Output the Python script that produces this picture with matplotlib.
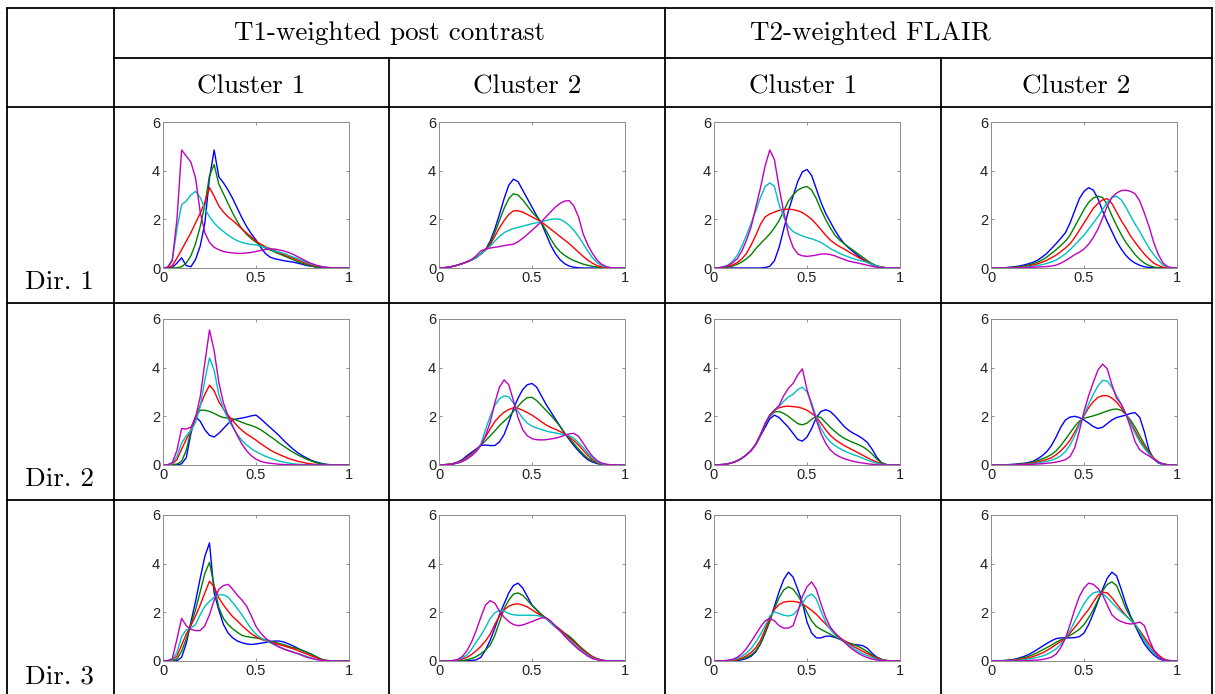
import numpy as np
import matplotlib
matplotlib.use("Agg")
import matplotlib.pyplot as plt

plt.rcParams["font.family"] = ["Liberation Sans", "DejaVu Sans"]

# ── Data: density curves, x = 0, 0.025, ..., 1 ──
x_grid = np.linspace(0, 1, 41)

# Dir. 1 / T1 Cluster 1
d1_t1c1_b = [0, 0, 0.02, 0.2, 0.42, 0.1, 0.05, 0.35, 0.9, 1.85,
             3.7, 4.85, 3.75, 3.5, 3.2, 2.85, 2.45, 2.05, 1.7, 1.4,
             1.15, 0.85, 0.6, 0.45, 0.38, 0.34, 0.3, 0.27, 0.24, 0.2,
             0.15, 0.1, 0.07, 0.04, 0.02, 0.01, 0, 0, 0, 0, 0]
d1_t1c1_g = [0, 0, 0, 0.01, 0.05, 0.2, 0.5, 1.0, 1.7, 2.6,
             3.8, 4.25, 3.45, 3.05, 2.65, 2.25, 1.9, 1.6, 1.38, 1.2,
             1.06, 0.92, 0.82, 0.74, 0.66, 0.58, 0.5, 0.42, 0.34, 0.26,
             0.19, 0.13, 0.08, 0.04, 0.02, 0.01, 0, 0, 0, 0, 0]
d1_t1c1_r = [0, 0.01, 0.1, 0.4, 0.75, 1.1, 1.45, 1.85, 2.25, 2.7,
             3.3, 2.95, 2.55, 2.3, 2.1, 1.95, 1.78, 1.6, 1.43, 1.27,
             1.1, 0.98, 0.88, 0.8, 0.72, 0.63, 0.55, 0.47, 0.4, 0.32,
             0.25, 0.18, 0.12, 0.08, 0.05, 0.02, 0.01, 0, 0, 0, 0]
d1_t1c1_c = [0, 0.05, 0.35, 1.6, 2.6, 2.75, 3.0, 3.15, 2.9, 2.45,
             2.1, 1.85, 1.65, 1.5, 1.35, 1.22, 1.12, 1.05, 1.0, 0.97,
             0.95, 0.9, 0.85, 0.78, 0.7, 0.65, 0.6, 0.52, 0.45, 0.38,
             0.3, 0.22, 0.15, 0.1, 0.06, 0.03, 0.01, 0, 0, 0, 0]
d1_t1c1_m = [0, 0.02, 0.3, 2.0, 4.85, 4.6, 4.35, 3.7, 2.3, 1.45,
             1.05, 0.85, 0.75, 0.68, 0.64, 0.62, 0.6, 0.6, 0.62, 0.64,
             0.68, 0.72, 0.76, 0.78, 0.78, 0.74, 0.7, 0.64, 0.56, 0.46,
             0.36, 0.26, 0.18, 0.11, 0.06, 0.03, 0.01, 0, 0, 0, 0]

# Dir. 1 / T1 Cluster 2
d1_t1c2_b = [0, 0.01, 0.03, 0.07, 0.12, 0.18, 0.25, 0.33, 0.43, 0.58,
             0.75, 1.1, 1.6, 2.2, 2.85, 3.4, 3.65, 3.55, 3.2, 2.85,
             2.5, 2.15, 1.85, 1.4, 0.95, 0.6, 0.35, 0.18, 0.08, 0.03,
             0.01, 0, 0, 0, 0, 0, 0, 0, 0, 0, 0]
d1_t1c2_g = [0, 0.01, 0.03, 0.07, 0.12, 0.18, 0.25, 0.33, 0.43, 0.58,
             0.75, 1.0, 1.45, 1.95, 2.45, 2.85, 3.05, 3.0, 2.8, 2.55,
             2.3, 2.1, 1.88, 1.55, 1.2, 0.9, 0.68, 0.52, 0.4, 0.3,
             0.23, 0.16, 0.11, 0.07, 0.04, 0.02, 0.01, 0, 0, 0, 0]
d1_t1c2_r = [0, 0.01, 0.03, 0.07, 0.12, 0.18, 0.25, 0.33, 0.43, 0.58,
             0.75, 0.95, 1.3, 1.65, 1.95, 2.2, 2.35, 2.35, 2.3, 2.2,
             2.1, 2.0, 1.9, 1.75, 1.6, 1.45, 1.3, 1.15, 1.0, 0.83,
             0.65, 0.48, 0.32, 0.2, 0.1, 0.04, 0.01, 0, 0, 0, 0]
d1_t1c2_c = [0, 0.01, 0.03, 0.07, 0.12, 0.18, 0.25, 0.33, 0.43, 0.58,
             0.72, 0.9, 1.1, 1.3, 1.45, 1.55, 1.62, 1.67, 1.72, 1.77,
             1.82, 1.86, 1.9, 1.95, 2.0, 2.02, 2.0, 1.9, 1.75, 1.55,
             1.3, 1.0, 0.7, 0.42, 0.22, 0.1, 0.04, 0.01, 0, 0, 0]
d1_t1c2_m = [0, 0.01, 0.03, 0.07, 0.12, 0.18, 0.25, 0.35, 0.5, 0.7,
             0.78, 0.82, 0.85, 0.88, 0.92, 0.95, 0.98, 1.08, 1.22, 1.38,
             1.55, 1.72, 1.9, 2.1, 2.3, 2.5, 2.65, 2.75, 2.77, 2.55,
             2.1, 1.4, 0.95, 0.6, 0.32, 0.15, 0.05, 0.01, 0, 0, 0]

# Dir. 1 / T2 Cluster 1
d1_t2c1_b = [0, 0, 0, 0, 0, 0, 0, 0, 0, 0,
             0, 0.02, 0.07, 0.3, 0.85, 1.6, 2.35, 2.95, 3.55, 3.95,
             4.05, 3.8, 3.25, 2.7, 2.25, 1.9, 1.55, 1.25, 1.0, 0.82,
             0.66, 0.5, 0.36, 0.24, 0.14, 0.07, 0.03, 0.01, 0, 0, 0]
d1_t2c1_g = [0, 0, 0.01, 0.03, 0.08, 0.15, 0.25, 0.38, 0.55, 0.8,
             1.0, 1.2, 1.4, 1.65, 1.95, 2.35, 2.75, 3.0, 3.2, 3.3,
             3.35, 3.2, 2.85, 2.4, 2.0, 1.65, 1.35, 1.15, 1.0, 0.85,
             0.72, 0.58, 0.44, 0.3, 0.18, 0.09, 0.04, 0.01, 0, 0, 0]
d1_t2c1_r = [0, 0.01, 0.03, 0.07, 0.13, 0.22, 0.38, 0.6, 0.95, 1.35,
             1.8, 2.1, 2.22, 2.3, 2.37, 2.4, 2.42, 2.4, 2.35, 2.28,
             2.15, 2.0, 1.8, 1.58, 1.35, 1.15, 1.0, 0.88, 0.78, 0.66,
             0.55, 0.44, 0.34, 0.24, 0.15, 0.08, 0.04, 0.01, 0, 0, 0]
d1_t2c1_c = [0, 0.01, 0.05, 0.12, 0.28, 0.52, 0.9, 1.35, 1.85, 2.35,
             2.9, 3.35, 3.5, 3.35, 2.6, 2.1, 1.7, 1.5, 1.4, 1.32,
             1.25, 1.2, 1.13, 1.05, 0.93, 0.8, 0.7, 0.6, 0.52, 0.45,
             0.38, 0.33, 0.28, 0.22, 0.15, 0.08, 0.03, 0.01, 0, 0, 0]
d1_t2c1_m = [0, 0.01, 0.04, 0.1, 0.22, 0.38, 0.7, 1.15, 1.7, 2.5,
             3.3, 4.2, 4.85, 4.45, 3.3, 2.3, 1.4, 0.85, 0.58, 0.5,
             0.48, 0.5, 0.53, 0.57, 0.58, 0.55, 0.5, 0.42, 0.35, 0.28,
             0.24, 0.2, 0.16, 0.11, 0.07, 0.03, 0.01, 0, 0, 0, 0]

# Dir. 1 / T2 Cluster 2
d1_t2c2_b = [0, 0, 0.01, 0.01, 0.03, 0.05, 0.08, 0.12, 0.17, 0.23,
             0.32, 0.45, 0.6, 0.8, 1.0, 1.22, 1.45, 1.85, 2.35, 2.85,
             3.15, 3.3, 3.2, 2.85, 2.35, 1.9, 1.5, 1.1, 0.78, 0.52,
             0.33, 0.2, 0.11, 0.05, 0.02, 0.01, 0, 0, 0, 0, 0]
d1_t2c2_g = [0, 0, 0, 0.01, 0.02, 0.03, 0.05, 0.08, 0.12, 0.17,
             0.24, 0.33, 0.45, 0.6, 0.75, 0.92, 1.1, 1.35, 1.7, 2.05,
             2.4, 2.7, 2.88, 2.95, 2.9, 2.6, 2.15, 1.75, 1.38, 1.05,
             0.8, 0.55, 0.35, 0.2, 0.1, 0.04, 0.01, 0, 0, 0, 0]
d1_t2c2_r = [0, 0, 0, 0, 0.01, 0.02, 0.03, 0.05, 0.08, 0.12,
             0.17, 0.24, 0.32, 0.42, 0.53, 0.67, 0.82, 1.0, 1.25, 1.55,
             1.85, 2.15, 2.45, 2.65, 2.8, 2.85, 2.65, 2.3, 1.95, 1.65,
             1.32, 1.05, 0.8, 0.57, 0.37, 0.2, 0.1, 0.03, 0.01, 0, 0]
d1_t2c2_c = [0, 0, 0, 0, 0, 0.01, 0.02, 0.03, 0.05, 0.07,
             0.1, 0.14, 0.19, 0.25, 0.33, 0.45, 0.58, 0.75, 0.95, 1.15,
             1.35, 1.6, 1.85, 2.1, 2.4, 2.7, 2.9, 2.95, 2.8, 2.5,
             2.15, 1.8, 1.5, 1.15, 0.82, 0.55, 0.32, 0.12, 0.03, 0.01, 0]
d1_t2c2_m = [0, 0, 0, 0, 0, 0, 0.01, 0.01, 0.02, 0.03,
             0.04, 0.05, 0.06, 0.08, 0.12, 0.2, 0.3, 0.42, 0.55, 0.65,
             0.78, 0.98, 1.25, 1.6, 2.05, 2.55, 2.9, 3.08, 3.18, 3.2,
             3.15, 3.05, 2.75, 2.25, 1.7, 1.05, 0.55, 0.2, 0.05, 0.01, 0]

# Dir. 2 / T1 Cluster 1
d2_t1c1_b = [0, 0, 0, 0.01, 0.05, 0.3, 1.3, 1.98, 1.8, 1.45,
             1.22, 1.15, 1.3, 1.5, 1.7, 1.85, 1.9, 1.93, 1.97, 2.02,
             2.05, 1.9, 1.72, 1.55, 1.38, 1.2, 1.0, 0.82, 0.65, 0.5,
             0.38, 0.28, 0.18, 0.12, 0.07, 0.03, 0.01, 0, 0, 0, 0]
d2_t1c1_g = [0, 0, 0.01, 0.04, 0.15, 0.6, 1.4, 2.0, 2.25, 2.25,
             2.2, 2.12, 2.02, 1.95, 1.93, 1.9, 1.83, 1.75, 1.68, 1.62,
             1.55, 1.45, 1.32, 1.18, 1.05, 0.9, 0.77, 0.64, 0.52, 0.41,
             0.32, 0.23, 0.16, 0.09, 0.05, 0.02, 0.01, 0, 0, 0, 0]
d2_t1c1_r = [0, 0.01, 0.04, 0.22, 0.65, 1.05, 1.45, 1.95, 2.45, 2.9,
             3.28, 3.05, 2.6, 2.3, 2.05, 1.82, 1.6, 1.42, 1.27, 1.15,
             1.02, 0.88, 0.75, 0.62, 0.52, 0.43, 0.35, 0.27, 0.21, 0.15,
             0.11, 0.07, 0.04, 0.02, 0.01, 0, 0, 0, 0, 0, 0]
d2_t1c1_c = [0, 0.01, 0.06, 0.35, 0.9, 1.2, 1.4, 1.75, 2.4, 3.5,
             4.4, 3.9, 2.9, 2.3, 1.9, 1.55, 1.25, 1.0, 0.82, 0.67,
             0.55, 0.45, 0.36, 0.29, 0.22, 0.16, 0.12, 0.08, 0.05, 0.03,
             0.02, 0.01, 0.01, 0, 0, 0, 0, 0, 0, 0, 0]
d2_t1c1_m = [0, 0.01, 0.1, 0.6, 1.5, 1.48, 1.55, 1.95, 2.8, 4.2,
             5.55, 4.7, 3.4, 2.55, 2.0, 1.6, 1.2, 0.85, 0.58, 0.38,
             0.24, 0.15, 0.1, 0.07, 0.05, 0.03, 0.02, 0.01, 0.01, 0,
             0, 0, 0, 0, 0, 0, 0, 0, 0, 0, 0]

# Dir. 2 / T1 Cluster 2
d2_t1c2_b = [0, 0.01, 0.03, 0.06, 0.12, 0.22, 0.38, 0.52, 0.66, 0.8,
             0.82, 0.8, 0.8, 0.95, 1.25, 1.75, 2.3, 2.75, 3.1, 3.3,
             3.35, 3.2, 2.85, 2.5, 2.2, 1.9, 1.6, 1.3, 1.05, 0.8,
             0.58, 0.38, 0.22, 0.12, 0.06, 0.02, 0.01, 0, 0, 0, 0]
d2_t1c2_g = [0, 0.01, 0.02, 0.05, 0.1, 0.18, 0.3, 0.45, 0.6, 0.8,
             1.0, 1.2, 1.4, 1.62, 1.8, 1.98, 2.2, 2.42, 2.62, 2.77,
             2.78, 2.65, 2.45, 2.25, 2.05, 1.83, 1.6, 1.32, 1.1, 0.88,
             0.65, 0.45, 0.28, 0.16, 0.08, 0.03, 0.01, 0, 0, 0, 0]
d2_t1c2_r = [0, 0.01, 0.02, 0.05, 0.1, 0.18, 0.3, 0.45, 0.62, 0.85,
             1.15, 1.48, 1.78, 2.0, 2.17, 2.28, 2.35, 2.33, 2.25, 2.15,
             2.05, 1.92, 1.78, 1.65, 1.55, 1.47, 1.38, 1.28, 1.15, 1.0,
             0.82, 0.6, 0.4, 0.22, 0.11, 0.04, 0.01, 0, 0, 0, 0]
d2_t1c2_c = [0, 0.01, 0.02, 0.04, 0.08, 0.15, 0.26, 0.4, 0.58, 0.85,
             1.45, 2.0, 2.45, 2.72, 2.84, 2.8, 2.55, 2.2, 1.92, 1.72,
             1.6, 1.52, 1.46, 1.4, 1.35, 1.32, 1.28, 1.25, 1.2, 1.1,
             0.92, 0.72, 0.48, 0.28, 0.13, 0.05, 0.02, 0, 0, 0, 0]
d2_t1c2_m = [0, 0.01, 0.02, 0.04, 0.08, 0.14, 0.24, 0.38, 0.55, 0.8,
             1.2, 1.75, 2.55, 3.2, 3.5, 3.3, 2.65, 1.95, 1.45, 1.2,
             1.08, 1.04, 1.03, 1.04, 1.07, 1.1, 1.15, 1.22, 1.28, 1.3,
             1.18, 0.9, 0.6, 0.36, 0.18, 0.08, 0.03, 0.01, 0, 0, 0]

# Dir. 2 / T2 Cluster 1
d2_t2c1_b = [0, 0.01, 0.02, 0.05, 0.1, 0.17, 0.28, 0.42, 0.6, 0.85,
             1.2, 1.55, 1.9, 2.05, 1.95, 1.75, 1.55, 1.3, 1.05, 0.98,
             1.15, 1.5, 1.95, 2.2, 2.27, 2.2, 2.02, 1.8, 1.58, 1.42,
             1.3, 1.2, 1.08, 0.92, 0.65, 0.32, 0.1, 0.02, 0, 0, 0]
d2_t2c1_g = [0, 0.01, 0.02, 0.05, 0.1, 0.17, 0.28, 0.42, 0.6, 0.85,
             1.25, 1.65, 2.0, 2.18, 2.2, 2.12, 2.0, 1.85, 1.7, 1.65,
             1.72, 1.88, 2.0, 1.95, 1.75, 1.55, 1.38, 1.22, 1.1, 1.0,
             0.92, 0.84, 0.75, 0.62, 0.45, 0.25, 0.08, 0.02, 0, 0, 0]
d2_t2c1_r = [0, 0.01, 0.02, 0.05, 0.1, 0.17, 0.28, 0.42, 0.6, 0.85,
             1.25, 1.7, 2.05, 2.25, 2.35, 2.4, 2.42, 2.4, 2.38, 2.33,
             2.25, 2.12, 1.98, 1.72, 1.45, 1.22, 1.05, 0.92, 0.8, 0.7,
             0.6, 0.5, 0.4, 0.3, 0.2, 0.12, 0.05, 0.01, 0, 0, 0]
d2_t2c1_c = [0, 0.01, 0.02, 0.05, 0.1, 0.17, 0.28, 0.42, 0.6, 0.85,
             1.25, 1.7, 2.05, 2.25, 2.4, 2.62, 2.8, 2.9, 3.1, 3.2,
             3.0, 2.55, 1.95, 1.5, 1.18, 0.95, 0.8, 0.68, 0.58, 0.5,
             0.42, 0.36, 0.28, 0.2, 0.13, 0.07, 0.03, 0.01, 0, 0, 0]
d2_t2c1_m = [0, 0.01, 0.02, 0.05, 0.1, 0.17, 0.28, 0.42, 0.6, 0.85,
             1.25, 1.7, 2.05, 2.25, 2.45, 2.85, 3.15, 3.35, 3.7, 3.95,
             3.1, 2.45, 1.85, 1.3, 0.9, 0.62, 0.45, 0.34, 0.26, 0.2,
             0.15, 0.11, 0.08, 0.05, 0.03, 0.01, 0, 0, 0, 0, 0]

# Dir. 2 / T2 Cluster 2
d2_t2c2_b = [0, 0, 0.01, 0.01, 0.02, 0.03, 0.05, 0.07, 0.1, 0.15,
             0.25, 0.38, 0.55, 0.8, 1.15, 1.55, 1.85, 1.97, 2.0, 1.95,
             1.85, 1.72, 1.58, 1.5, 1.55, 1.7, 1.85, 1.95, 2.0, 2.05,
             2.12, 2.15, 1.95, 1.35, 0.6, 0.25, 0.08, 0.02, 0.01, 0, 0]
d2_t2c2_g = [0, 0, 0, 0, 0.01, 0.02, 0.03, 0.05, 0.08, 0.12,
             0.18, 0.25, 0.33, 0.43, 0.58, 0.8, 1.05, 1.32, 1.58, 1.8,
             1.92, 1.97, 2.02, 2.08, 2.15, 2.22, 2.28, 2.3, 2.25, 2.08,
             1.85, 1.55, 1.2, 0.85, 0.52, 0.28, 0.12, 0.04, 0.01, 0, 0]
d2_t2c2_r = [0, 0, 0, 0, 0.01, 0.01, 0.02, 0.03, 0.05, 0.08,
             0.12, 0.17, 0.23, 0.3, 0.42, 0.58, 0.78, 1.02, 1.35, 1.7,
             2.02, 2.35, 2.6, 2.78, 2.85, 2.85, 2.75, 2.58, 2.35, 2.08,
             1.75, 1.4, 1.05, 0.75, 0.5, 0.28, 0.12, 0.04, 0.01, 0, 0]
d2_t2c2_c = [0, 0, 0, 0, 0, 0, 0.01, 0.02, 0.03, 0.05,
             0.08, 0.11, 0.15, 0.2, 0.27, 0.38, 0.55, 0.82, 1.2, 1.65,
             2.05, 2.5, 2.9, 3.25, 3.48, 3.45, 3.2, 2.85, 2.5, 2.1,
             1.7, 1.3, 0.95, 0.68, 0.45, 0.25, 0.1, 0.03, 0.01, 0, 0]
d2_t2c2_m = [0, 0, 0, 0, 0, 0, 0.01, 0.01, 0.02, 0.03,
             0.04, 0.05, 0.07, 0.09, 0.12, 0.16, 0.22, 0.35, 0.7, 1.4,
             2.2, 2.85, 3.4, 3.9, 4.15, 3.95, 3.3, 2.75, 2.5, 2.1,
             1.55, 0.95, 0.62, 0.48, 0.37, 0.24, 0.12, 0.04, 0.01, 0, 0]

# Dir. 3 / T1 Cluster 1
d3_t1c1_b = [0, 0, 0, 0.01, 0.15, 0.72, 1.6, 2.45, 3.4, 4.3,
             4.85, 2.8, 2.1, 1.5, 1.15, 0.95, 0.82, 0.75, 0.7, 0.68,
             0.7, 0.73, 0.76, 0.8, 0.82, 0.82, 0.78, 0.7, 0.62, 0.52,
             0.43, 0.35, 0.27, 0.17, 0.07, 0.02, 0.01, 0, 0, 0, 0]
d3_t1c1_g = [0, 0, 0.01, 0.08, 0.4, 0.9, 1.5, 2.1, 2.85, 3.6,
             4.05, 3.1, 2.2, 1.75, 1.5, 1.32, 1.18, 1.05, 1.0, 0.97,
             0.95, 0.92, 0.87, 0.82, 0.77, 0.72, 0.67, 0.6, 0.55, 0.5,
             0.43, 0.35, 0.27, 0.17, 0.08, 0.03, 0.01, 0, 0, 0, 0]
d3_t1c1_r = [0, 0.01, 0.04, 0.2, 0.65, 1.1, 1.45, 1.85, 2.3, 2.8,
             3.28, 3.05, 2.6, 2.3, 2.05, 1.82, 1.65, 1.45, 1.28, 1.12,
             1.0, 0.9, 0.83, 0.77, 0.72, 0.67, 0.62, 0.56, 0.5, 0.43,
             0.35, 0.28, 0.2, 0.13, 0.06, 0.02, 0.01, 0, 0, 0, 0]
d3_t1c1_c = [0, 0.01, 0.05, 0.35, 1.0, 1.28, 1.35, 1.5, 1.9, 2.25,
             2.45, 2.62, 2.72, 2.72, 2.62, 2.4, 2.15, 1.9, 1.6, 1.32,
             1.1, 0.95, 0.85, 0.75, 0.67, 0.58, 0.5, 0.43, 0.37, 0.31,
             0.25, 0.18, 0.12, 0.06, 0.03, 0.01, 0, 0, 0, 0, 0]
d3_t1c1_m = [0, 0.01, 0.1, 0.9, 1.75, 1.45, 1.3, 1.25, 1.25, 1.45,
             1.9, 2.5, 2.95, 3.1, 3.15, 2.95, 2.7, 2.5, 2.25, 1.85,
             1.42, 1.15, 0.95, 0.8, 0.67, 0.57, 0.49, 0.42, 0.36, 0.3,
             0.22, 0.15, 0.1, 0.06, 0.03, 0.01, 0, 0, 0, 0, 0]

# Dir. 3 / T1 Cluster 2
d3_t1c2_b = [0, 0, 0, 0, 0, 0, 0.01, 0.02, 0.05, 0.15,
             0.45, 0.85, 1.35, 1.9, 2.35, 2.8, 3.1, 3.2, 3.0, 2.65,
             2.3, 2.1, 1.9, 1.75, 1.58, 1.4, 1.25, 1.1, 0.97, 0.8,
             0.62, 0.45, 0.3, 0.17, 0.08, 0.03, 0.01, 0, 0, 0, 0]
d3_t1c2_g = [0, 0, 0, 0, 0.01, 0.02, 0.05, 0.1, 0.18, 0.3,
             0.45, 0.65, 1.05, 1.6, 2.15, 2.5, 2.75, 2.8, 2.7, 2.5,
             2.28, 2.1, 1.92, 1.77, 1.6, 1.45, 1.3, 1.15, 1.02, 0.85,
             0.65, 0.48, 0.32, 0.18, 0.09, 0.03, 0.01, 0, 0, 0, 0]
d3_t1c2_r = [0, 0, 0, 0.01, 0.03, 0.08, 0.15, 0.27, 0.42, 0.6,
             0.82, 1.1, 1.5, 1.85, 2.1, 2.25, 2.33, 2.35, 2.3, 2.22,
             2.1, 1.98, 1.85, 1.75, 1.6, 1.45, 1.3, 1.12, 0.95, 0.78,
             0.6, 0.44, 0.3, 0.18, 0.09, 0.03, 0.01, 0, 0, 0, 0]
d3_t1c2_c = [0, 0, 0, 0.02, 0.05, 0.12, 0.25, 0.48, 0.78, 1.05,
             1.38, 1.75, 1.98, 2.08, 2.05, 1.95, 1.9, 1.88, 1.88, 1.88,
             1.88, 1.87, 1.83, 1.75, 1.6, 1.42, 1.25, 1.05, 0.88, 0.7,
             0.52, 0.38, 0.24, 0.13, 0.06, 0.02, 0.01, 0, 0, 0, 0]
d3_t1c2_m = [0, 0, 0, 0.02, 0.06, 0.18, 0.42, 0.78, 1.25, 1.8,
             2.3, 2.48, 2.38, 2.05, 1.8, 1.62, 1.5, 1.45, 1.48, 1.55,
             1.62, 1.7, 1.77, 1.78, 1.65, 1.45, 1.25, 1.03, 0.83, 0.65,
             0.48, 0.34, 0.2, 0.1, 0.05, 0.02, 0.01, 0, 0, 0, 0]

# Dir. 3 / T2 Cluster 1
d3_t2c1_b = [0, 0, 0, 0, 0.01, 0.02, 0.05, 0.1, 0.2, 0.38,
             0.7, 1.15, 1.65, 2.25, 2.85, 3.35, 3.65, 3.45, 2.95, 2.4,
             1.6, 1.15, 0.95, 0.95, 1.02, 1.02, 0.97, 0.9, 0.82, 0.72,
             0.68, 0.66, 0.63, 0.52, 0.32, 0.16, 0.07, 0.02, 0.01, 0, 0]
d3_t2c1_g = [0, 0, 0, 0, 0.02, 0.04, 0.08, 0.15, 0.25, 0.42,
             0.72, 1.15, 1.65, 2.15, 2.6, 2.92, 3.05, 2.95, 2.7, 2.38,
             2.0, 1.65, 1.42, 1.3, 1.2, 1.1, 1.0, 0.9, 0.82, 0.75,
             0.68, 0.6, 0.5, 0.38, 0.25, 0.13, 0.06, 0.02, 0.01, 0, 0]
d3_t2c1_r = [0, 0, 0, 0.01, 0.03, 0.06, 0.12, 0.22, 0.35, 0.55,
             0.85, 1.3, 1.75, 2.12, 2.32, 2.42, 2.45, 2.45, 2.42, 2.35,
             2.22, 2.08, 1.92, 1.72, 1.52, 1.32, 1.15, 0.97, 0.84, 0.72,
             0.6, 0.5, 0.4, 0.3, 0.2, 0.11, 0.05, 0.02, 0.01, 0, 0]
d3_t2c1_c = [0, 0, 0.01, 0.02, 0.05, 0.1, 0.2, 0.33, 0.52, 0.78,
             1.1, 1.45, 1.85, 2.02, 1.95, 1.88, 1.85, 1.9, 2.1, 2.38,
             2.65, 2.75, 2.55, 2.05, 1.6, 1.3, 1.08, 0.93, 0.8, 0.66,
             0.52, 0.4, 0.3, 0.22, 0.14, 0.07, 0.03, 0.01, 0, 0, 0]
d3_t2c1_m = [0, 0, 0.01, 0.03, 0.07, 0.15, 0.3, 0.52, 0.8, 1.1,
             1.4, 1.65, 1.75, 1.65, 1.45, 1.35, 1.35, 1.45, 2.0, 2.65,
             3.05, 3.25, 2.95, 2.35, 1.8, 1.4, 1.15, 0.95, 0.78, 0.6,
             0.45, 0.32, 0.22, 0.14, 0.08, 0.04, 0.02, 0.01, 0, 0, 0]

# Dir. 3 / T2 Cluster 2
d3_t2c2_b = [0, 0, 0.01, 0.02, 0.04, 0.07, 0.12, 0.18, 0.26, 0.36,
             0.48, 0.6, 0.72, 0.83, 0.92, 0.95, 0.95, 0.95, 0.96, 1.0,
             1.15, 1.5, 1.95, 2.45, 2.95, 3.4, 3.65, 3.5, 2.95, 2.35,
             1.85, 1.45, 1.05, 0.7, 0.45, 0.25, 0.1, 0.03, 0.01, 0, 0]
d3_t2c2_g = [0, 0, 0.01, 0.02, 0.03, 0.05, 0.09, 0.13, 0.19, 0.26,
             0.35, 0.45, 0.55, 0.65, 0.77, 0.87, 0.95, 1.05, 1.17, 1.3,
             1.5, 1.78, 2.1, 2.5, 2.88, 3.15, 3.25, 3.1, 2.65, 2.15,
             1.8, 1.5, 1.15, 0.85, 0.57, 0.35, 0.16, 0.06, 0.02, 0.01, 0]
d3_t2c2_r = [0, 0, 0, 0.01, 0.02, 0.04, 0.06, 0.09, 0.13, 0.18,
             0.25, 0.33, 0.43, 0.55, 0.68, 0.8, 0.93, 1.15, 1.38, 1.62,
             1.88, 2.12, 2.42, 2.7, 2.83, 2.8, 2.6, 2.35, 2.1, 1.88,
             1.68, 1.5, 1.25, 0.97, 0.7, 0.45, 0.25, 0.1, 0.03, 0.01, 0]
d3_t2c2_c = [0, 0, 0, 0, 0.01, 0.02, 0.03, 0.05, 0.08, 0.11,
             0.15, 0.2, 0.27, 0.37, 0.5, 0.68, 0.93, 1.25, 1.62, 2.0,
             2.35, 2.62, 2.8, 2.85, 2.78, 2.6, 2.4, 2.2, 2.02, 1.85,
             1.68, 1.52, 1.2, 0.85, 0.55, 0.33, 0.15, 0.06, 0.02, 0.01, 0]
d3_t2c2_m = [0, 0, 0, 0, 0, 0, 0.01, 0.01, 0.02, 0.03,
             0.04, 0.06, 0.1, 0.16, 0.28, 0.55, 0.93, 1.5, 2.12, 2.65,
             3.0, 3.2, 3.15, 2.98, 2.72, 2.3, 1.9, 1.72, 1.62, 1.55,
             1.52, 1.55, 1.6, 1.45, 0.9, 0.45, 0.18, 0.05, 0.01, 0, 0]

# ── Table labels ──────────────────────────────────────────────────────
group_labels = ["T1-weighted post contrast", "T2-weighted FLAIR"]
cluster_labels = ["Cluster 1", "Cluster 2", "Cluster 1", "Cluster 2"]
row_labels = ["Dir. 1", "Dir. 2", "Dir. 3"]

panels = [
    [[d1_t1c1_b, d1_t1c1_g, d1_t1c1_r, d1_t1c1_c, d1_t1c1_m],
     [d1_t1c2_b, d1_t1c2_g, d1_t1c2_r, d1_t1c2_c, d1_t1c2_m],
     [d1_t2c1_b, d1_t2c1_g, d1_t2c1_r, d1_t2c1_c, d1_t2c1_m],
     [d1_t2c2_b, d1_t2c2_g, d1_t2c2_r, d1_t2c2_c, d1_t2c2_m]],
    [[d2_t1c1_b, d2_t1c1_g, d2_t1c1_r, d2_t1c1_c, d2_t1c1_m],
     [d2_t1c2_b, d2_t1c2_g, d2_t1c2_r, d2_t1c2_c, d2_t1c2_m],
     [d2_t2c1_b, d2_t2c1_g, d2_t2c1_r, d2_t2c1_c, d2_t2c1_m],
     [d2_t2c2_b, d2_t2c2_g, d2_t2c2_r, d2_t2c2_c, d2_t2c2_m]],
    [[d3_t1c1_b, d3_t1c1_g, d3_t1c1_r, d3_t1c1_c, d3_t1c1_m],
     [d3_t1c2_b, d3_t1c2_g, d3_t1c2_r, d3_t1c2_c, d3_t1c2_m],
     [d3_t2c1_b, d3_t2c1_g, d3_t2c1_r, d3_t2c1_c, d3_t2c1_m],
     [d3_t2c2_b, d3_t2c2_g, d3_t2c2_r, d3_t2c2_c, d3_t2c2_m]],
]
line_colors = ["#0000ff", "#008000", "#ff0000", "#00bfbf", "#bf00bf"]

# ── Layout (pixels) ───────────────────────────────────────────────────
W, H = 1215, 694
col_x = [7, 114, 389, 665, 941, 1212]
row_y = [8, 58, 107, 303, 500]
ax_left = [163, 439, 714, 991]
ax_top = [122, 319, 515]
ax_w, ax_h = 186, 146

fig = plt.figure(figsize=(W / 100, H / 100), dpi=100)
fig.patch.set_facecolor("white")

bg = fig.add_axes([0, 0, 1, 1])
bg.set_xlim(0, W)
bg.set_ylim(H, 0)
bg.axis("off")

lw = 1.3
kw = dict(color="black", linewidth=lw, solid_capstyle="projecting")
bg.plot([col_x[0], col_x[-1]], [row_y[0]] * 2, **kw)
bg.plot([col_x[1], col_x[-1]], [row_y[1]] * 2, **kw)
for yy in row_y[2:]:
    bg.plot([col_x[0], col_x[-1]], [yy] * 2, **kw)
for xx in [col_x[0], col_x[1], col_x[3], col_x[5]]:
    bg.plot([xx, xx], [row_y[0], H], **kw)
for xx in [col_x[2], col_x[4]]:
    bg.plot([xx, xx], [row_y[1], H], **kw)

serif = "cmr10"
fs = 19.5
bg.text((col_x[1] + col_x[3]) / 2, 40, group_labels[0], family=serif,
        fontsize=fs, ha="center", va="baseline")
bg.text(750, 40, group_labels[1], family=serif,
        fontsize=fs, ha="left", va="baseline")
for j, lab in enumerate(cluster_labels):
    bg.text((col_x[j + 1] + col_x[j + 2]) / 2, 93, lab, family=serif,
            fontsize=fs, ha="center", va="baseline")
for i, lab in enumerate(row_labels):
    bg.text(25, row_y[i + 3] - 14 if i < 2 else 683, lab, family=serif,
            fontsize=fs, ha="left", va="baseline")

# ── Small density panels ──────────────────────────────────────────────
for i in range(3):
    for j in range(4):
        rect = [ax_left[j] / W, 1 - (ax_top[i] + ax_h) / H, ax_w / W, ax_h / H]
        ax = fig.add_axes(rect)
        for ys, col in zip(panels[i][j], line_colors):
            assert len(ys) == len(x_grid)
            ax.plot(x_grid, ys, color=col, linewidth=1.0)
        ax.set_xlim(0, 1)
        ax.set_ylim(0, 6)
        ax.set_xticks([0, 0.5, 1])
        ax.set_xticklabels(["0", "0.5", "1"])
        ax.set_yticks([0, 2, 4, 6])
        ax.set_yticklabels(["0", "2", "4", "6"])
        ax.tick_params(direction="in", length=2.5, width=0.6, color="#808080",
                       labelsize=10.5, pad=2, top=True, right=True,
                       labelcolor="#222222")
        for sp in ax.spines.values():
            sp.set_color("#8c8c8c")
            sp.set_linewidth(0.7)

fig.savefig("out.png", dpi=100, facecolor="white")
